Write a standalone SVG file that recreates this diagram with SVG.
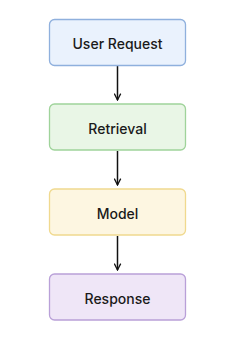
<svg xmlns="http://www.w3.org/2000/svg" width="235" height="353" viewBox="0 0 235 353">
<style>
.box{stroke-width:1.3}
.lbl{font-family:"Inter","Liberation Sans",sans-serif;font-size:14px;font-weight:500;fill:#1a1a1a;text-anchor:middle;dominant-baseline:central}
.conn{stroke:#111;stroke-width:1.5;fill:none}
</style>
<defs>
<marker id="arr" viewBox="0 0 10 10" refX="9" refY="5" markerWidth="8" markerHeight="8" markerUnits="userSpaceOnUse" orient="auto">
<path d="M1,1 L9,5 L1,9" fill="none" stroke="#111" stroke-width="1.6"/>
</marker>
</defs>
<rect width="235" height="353" fill="#ffffff"/>
<g id="connectors">
<line class="conn" x1="117.5" y1="66" x2="117.5" y2="100" marker-end="url(#arr)"/>
<line class="conn" x1="117.5" y1="151" x2="117.5" y2="185" marker-end="url(#arr)"/>
<line class="conn" x1="117.5" y1="236" x2="117.5" y2="270" marker-end="url(#arr)"/>
</g>
<g id="user-request">
<rect class="box" x="49.5" y="19.5" width="136" height="46" rx="5" fill="#eaf2fd" stroke="#8fb0dd"/>
<text class="lbl" x="117.5" y="43">User Request</text>
</g>
<g id="retrieval">
<rect class="box" x="49.5" y="104" width="136" height="46" rx="5" fill="#e9f6e6" stroke="#9fd39a"/>
<text class="lbl" x="117.5" y="128">Retrieval</text>
</g>
<g id="model">
<rect class="box" x="49.5" y="189" width="136" height="46" rx="5" fill="#fdf6e1" stroke="#f0d98e"/>
<text class="lbl" x="117.5" y="213">Model</text>
</g>
<g id="response">
<rect class="box" x="49.5" y="274" width="136" height="46" rx="5" fill="#efe6f7" stroke="#b9a0d8"/>
<text class="lbl" x="117.5" y="298">Response</text>
</g>
</svg>
